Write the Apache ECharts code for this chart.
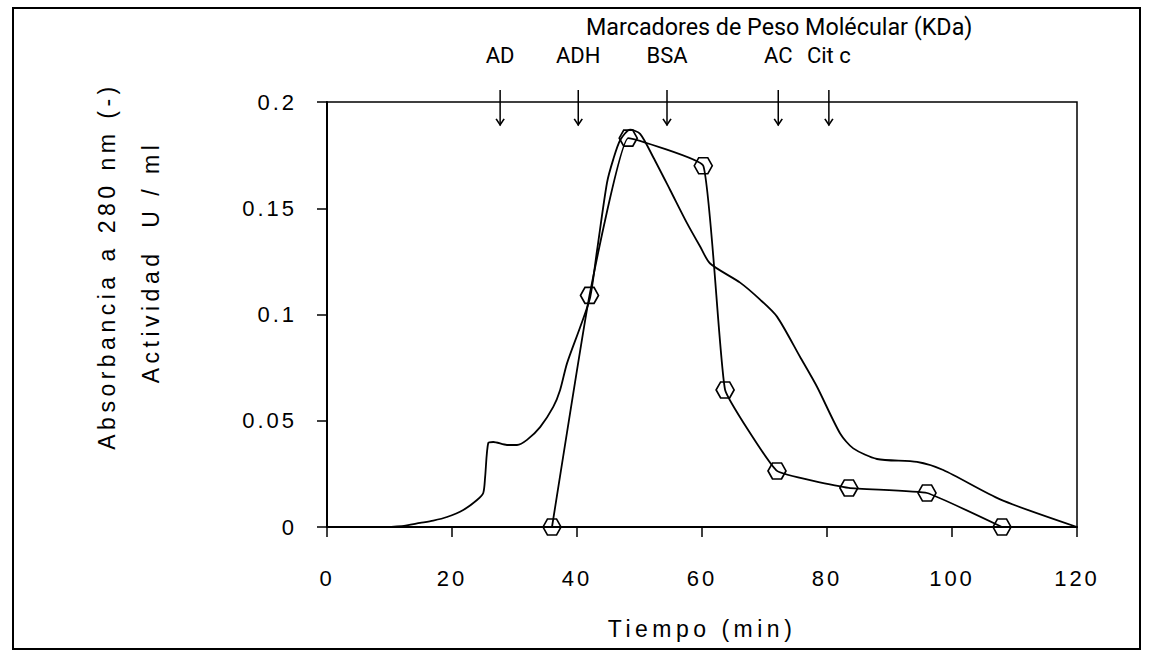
<!DOCTYPE html>
<html>
<head>
<meta charset="utf-8">
<script src="https://cdn.jsdelivr.net/npm/echarts@6/dist/echarts.min.js"></script>
<style>
  html, body { margin: 0; padding: 0; background: #fff; }
  #chart { width: 1154px; height: 656px; }
  /* the scanned figure uses widely spaced lettering for axis text */
  #chart text[style*="Liberation Sans"][style*="22px"] { letter-spacing: 3px; }
  #chart text[style*="Liberation Sans"][style*="23px"] { letter-spacing: 4.5px; }
</style>
</head>
<body>
<div id="chart"></div>
<script>
// Absorbancia a 280 nm (continuous trace)
const absTime = [4, 8, 12, 14.9, 17, 19.2, 21.8, 24, 25, 25.3, 25.8, 26.6, 28.8, 30.4, 32, 34.1, 36.2, 37.3, 38.4, 40.5, 42.1, 43.2, 44.8, 45.8, 46.9, 48.5, 50.1, 52.2, 54.9, 57.6, 59.7, 61.3, 66.1, 69.3, 72, 75.7, 78.4, 82.1, 84.2, 88, 94.4, 98.6, 107.7, 120]
const absValue = [0, 0, 0.0004, 0.0019, 0.003, 0.0047, 0.008, 0.0127, 0.016, 0.0235, 0.0395, 0.040, 0.0386, 0.0386, 0.041, 0.047, 0.0565, 0.0645, 0.077, 0.094, 0.108, 0.130, 0.162, 0.173, 0.182, 0.187, 0.185, 0.174, 0.1586, 0.143, 0.132, 0.124, 0.115, 0.107, 0.099, 0.080, 0.066, 0.044, 0.037, 0.032, 0.0306, 0.0268, 0.013, 0]

// Actividad U/ml (measured fractions)
const actTime = [36, 42, 48.2, 60.2, 63.7, 72, 83.5, 96, 108]
const actValue = [0, 0.109, 0.183, 0.170, 0.0645, 0.0264, 0.0184, 0.016, 0]

// Molecular weight markers (elution time, min)
const markerNames = ['AD', 'ADH', 'BSA', 'AC', 'Cit c']
const markerTime = [27.7, 40.2, 54.4, 72.2, 80.3]
const arrowTop = 0.2056
const arrowBottom = 0.189

const xTicks = { min: 0, max: 120, interval: 20 }
const yTicks = { min: 0, max: 0.2, interval: 0.05 }

const chart = echarts.init(document.getElementById('chart'), null, { renderer: 'svg' })

const axisFont = 'Liberation Sans'
const labelFont = 'Roboto'

const hexagon = 'path://M-2,0 L-1,-1.732 L1,-1.732 L2,0 L1,1.732 L-1,1.732 Z'
const arrowHead = 'path://M0,0 L4,7 L8,0'

// one short down arrow per marker, label above it
const markerSeries = markerNames.map((name, i) => ({
  name,
  type: 'line',
  clip: false,
  silent: true,
  showSymbol: true,
  lineStyle: { color: '#000', width: 1.5 },
  data: [
    {
      value: [markerTime[i], arrowTop],
      symbol: 'circle',
      symbolSize: 1,
      itemStyle: { color: 'rgba(0,0,0,0)', borderWidth: 0 },
      label: {
        show: true,
        position: 'top',
        distance: 23,
        formatter: name,
        fontFamily: labelFont,
        fontSize: 22,
        lineHeight: 22,
        color: '#000'
      }
    },
    {
      value: [markerTime[i], arrowBottom],
      symbol: arrowHead,
      symbolSize: [8, 7],
      symbolOffset: [0, -3.5],
      symbolKeepAspect: true,
      itemStyle: { color: 'rgba(0,0,0,0)', borderColor: '#000', borderWidth: 1.5 }
    }
  ]
}))

const option = {
  backgroundColor: '#fff',
  animation: false,
  title: {
    text: 'Marcadores de Peso Molécular (KDa)',
    left: 586,
    top: 16,
    padding: 0,
    textStyle: { fontFamily: labelFont, fontSize: 23.3, lineHeight: 22, fontWeight: 'normal', color: '#000' }
  },
  grid: {
    left: 327, right: 77, top: 102, bottom: 129,
    show: true, borderColor: '#000', borderWidth: 1.5, backgroundColor: 'transparent'
  },
  xAxis: {
    type: 'value',
    min: xTicks.min, max: xTicks.max, interval: xTicks.interval,
    name: 'Tiempo (min)',
    nameLocation: 'middle',
    nameGap: 90,
    nameTextStyle: { fontFamily: axisFont, fontSize: 23, color: '#000' },
    axisLine: { lineStyle: { color: '#000', width: 2 } },
    axisTick: { show: true, inside: false, length: 10, lineStyle: { color: '#000', width: 1.5 } },
    axisLabel: { margin: 40, fontFamily: axisFont, fontSize: 22, color: '#000' },
    splitLine: { show: false }
  },
  yAxis: {
    type: 'value',
    min: yTicks.min, max: yTicks.max, interval: yTicks.interval,
    axisLine: { show: true, lineStyle: { color: '#000', width: 2 } },
    axisTick: { show: true, inside: false, length: 10, lineStyle: { color: '#000', width: 1.5 } },
    axisLabel: { margin: 30, fontFamily: axisFont, fontSize: 22, color: '#000' },
    splitLine: { show: false }
  },
  graphic: [
    {
      type: 'rect',
      shape: { x: 13, y: 8, width: 1127, height: 641 },
      style: { fill: 'none', stroke: '#000', lineWidth: 2 }
    },
    {
      type: 'text',
      x: 107, y: 266, rotation: Math.PI / 2,
      style: {
        text: 'Absorbancia a 280 nm (-)',
        font: '23px "Liberation Sans"', fill: '#000',
        align: 'center', verticalAlign: 'middle'
      }
    },
    {
      type: 'text',
      x: 151, y: 262, rotation: Math.PI / 2,
      style: {
        text: 'Actividad  U / ml',
        font: '23px "Liberation Sans"', fill: '#000',
        align: 'center', verticalAlign: 'middle'
      }
    }
  ],
  series: [
    {
      name: 'Absorbancia',
      type: 'line',
      data: absTime.map((t, i) => [t, absValue[i]]),
      showSymbol: false,
      smooth: 0.25,
      lineStyle: { color: '#000', width: 1.8 },
      itemStyle: { color: '#000' }
    },
    {
      name: 'Actividad',
      type: 'line',
      data: actTime.map((t, i) => [t, actValue[i]]),
      smooth: 0.1,
      clip: false,
      symbol: hexagon,
      symbolSize: [18, 16],
      lineStyle: { color: '#000', width: 1.8 },
      itemStyle: { color: 'rgba(0,0,0,0)', borderColor: '#000', borderWidth: 1.6 }
    },
    ...markerSeries
  ]
}

chart.setOption(option)
window.addEventListener('resize', () => chart.resize())
</script>
</body>
</html>
